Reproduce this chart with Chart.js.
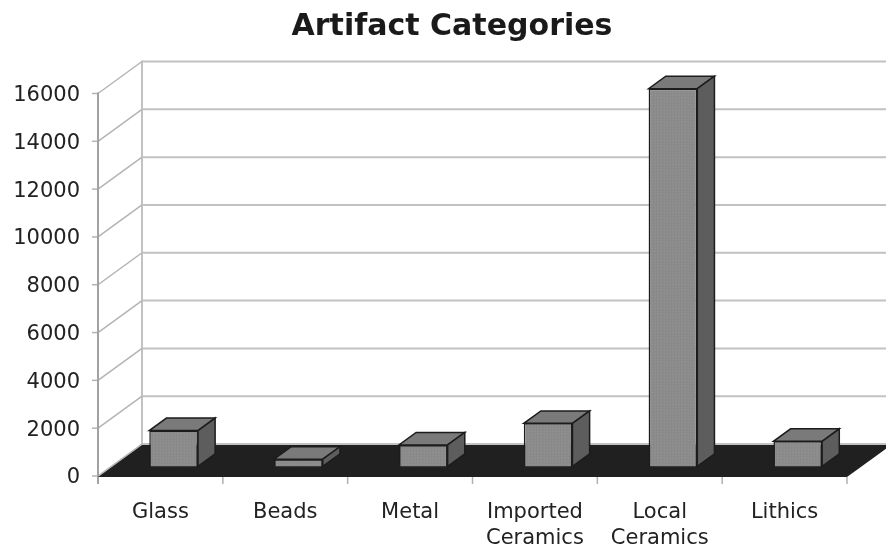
<!DOCTYPE html>
<html>
<head>
<meta charset="utf-8">
<title>Artifact Categories</title>
<script src="https://cdn.jsdelivr.net/npm/chart.js@4.4.1/dist/chart.umd.min.js"></script>
<style>
  html, body { margin: 0; padding: 0; background: #fff; }
</style>
</head>
<body>
<canvas id="artifactChart" width="886" height="549"></canvas>
<script>
const categories = ["Glass", "Beads", "Metal", ["Imported", "Ceramics"], ["Local", "Ceramics"], "Lithics"];
const counts = [1500, 300, 900, 1800, 15800, 1050];
const yTicks = [0, 2000, 4000, 6000, 8000, 10000, 12000, 14000, 16000];

// fake depth of the plot box: how far the back wall sits from the front axes
const depthX = 44;
const depthY = 32;
const barFront = 0.3; // bars start 30% into the floor
const barDepth = 0.39;
const titleCenter = 452;

const font = "'DejaVu Sans', Verdana, sans-serif";

// soft dotted fill for the bar fronts
function dotPattern(base, dot) {
  const c = document.createElement("canvas");
  c.width = 3;
  c.height = 3;
  const g = c.getContext("2d");
  g.fillStyle = base;
  g.fillRect(0, 0, 3, 3);
  g.fillStyle = dot;
  g.fillRect(0, 0, 1, 1);
  g.fillRect(2, 2, 1, 1);
  return g.createPattern(c, "repeat");
}

const line = (ctx, x1, y1, x2, y2) => {
  ctx.beginPath();
  ctx.moveTo(x1, y1);
  ctx.lineTo(x2, y2);
  ctx.stroke();
};

const poly = (ctx, pts, fill, stroke) => {
  ctx.beginPath();
  pts.forEach(([px, py], i) => (i ? ctx.lineTo(px, py) : ctx.moveTo(px, py)));
  ctx.closePath();
  ctx.fillStyle = fill;
  ctx.fill();
  ctx.strokeStyle = stroke;
  ctx.lineWidth = 1.5;
  ctx.stroke();
};

const box3d = {
  id: "box3d",
  afterLayout(chart) {
    // the title sits a little right of the canvas middle
    const t = chart.titleBlock;
    if (!t) return;
    const shift = titleCenter - (t.left + t.right) / 2;
    t.left += shift;
    t.right += shift;
  },
  beforeDatasetsDraw(chart) {
    const { ctx, chartArea: a, scales } = chart;
    const y = scales.y;
    ctx.save();

    // back wall gridlines
    ctx.strokeStyle = "#c2c2c2";
    ctx.lineWidth = 2;
    yTicks.forEach((v) => {
      const py = y.getPixelForValue(v) - depthY;
      line(ctx, a.left + depthX, py, chart.width + 20, py);
    });
    line(ctx, a.left + depthX, y.getPixelForValue(yTicks[yTicks.length - 1]) - depthY - 1,
      a.left + depthX, a.bottom - depthY);

    // left wall diagonals
    ctx.strokeStyle = "#b4b4b4";
    ctx.lineWidth = 1.5;
    yTicks.forEach((v) => {
      const py = y.getPixelForValue(v);
      line(ctx, a.left, py, a.left + depthX, py - depthY);
      line(ctx, a.left - 6, py, a.left, py);
    });

    // front value axis
    ctx.strokeStyle = "#a2a2a2";
    ctx.lineWidth = 2;
    line(ctx, a.left, a.top - 1, a.left, a.bottom + 8);

    // floor
    ctx.beginPath();
    ctx.moveTo(a.left, a.bottom + 1);
    ctx.lineTo(a.right, a.bottom + 1);
    ctx.lineTo(a.right + depthX, a.bottom + 1 - depthY);
    ctx.lineTo(a.left + depthX, a.bottom + 1 - depthY);
    ctx.closePath();
    ctx.fillStyle = "#202020";
    ctx.fill();

    // category boundary ticks
    ctx.strokeStyle = "#b0b0b0";
    ctx.lineWidth = 1.5;
    const step = (a.right - a.left) / categories.length;
    for (let i = 1; i <= categories.length; i++) {
      const px = a.left + i * step;
      line(ctx, px, a.bottom + 1, px, a.bottom + 8);
    }
    ctx.restore();
  },
  beforeDatasetDraw(chart) {
    chart.ctx.save();
    chart.ctx.translate(depthX * barFront, -depthY * barFront);
  },
  afterDatasetDraw(chart, args) {
    const { ctx } = chart;
    const dx = depthX * barDepth;
    const dy = depthY * barDepth;
    chart.getDatasetMeta(args.index).data.forEach((bar) => {
      const { x, y, base, width } = bar.getProps(["x", "y", "base", "width"], true);
      const l = x - width / 2;
      const r = x + width / 2;
      poly(ctx, [[l, y], [r, y], [r + dx, y - dy], [l + dx, y - dy]], "#7a7a7a", "#1c1c1c");
      poly(ctx, [[r, y], [r + dx, y - dy], [r + dx, base - dy], [r, base]], "#5d5d5d", "#1c1c1c");
    });
    ctx.restore();
  },
};

new Chart(document.getElementById("artifactChart"), {
  type: "bar",
  data: {
    labels: categories,
    datasets: [
      {
        data: counts,
        backgroundColor: dotPattern("#888888", "#9a9a9a"),
        borderColor: "#1c1c1c",
        borderWidth: 1.5,
        categoryPercentage: 1,
        barPercentage: 0.39,
        clip: false,
      },
    ],
  },
  options: {
    responsive: false,
    animation: false,
    devicePixelRatio: 1,
    layout: { padding: { left: 0, right: 39, top: 0, bottom: 0 } },
    plugins: {
      legend: { display: false },
      tooltip: { enabled: false },
      title: {
        display: true,
        text: "Artifact Categories",
        color: "#1a1a1a",
        font: { family: font, size: 30, weight: "bold", lineHeight: 1.2 },
        padding: { top: 9, bottom: 48.5 },
      },
    },
    scales: {
      x: {
        grid: { display: false },
        border: { display: false },
        ticks: {
          color: "#222",
          font: { family: font, size: 21, lineHeight: 1.25 },
          padding: 15,
          maxRotation: 0,
          autoSkip: false,
        },
        afterFit: (scale) => {
          scale.height = 73;
        },
      },
      y: {
        min: 0,
        max: 16000,
        grid: { display: false },
        border: { display: false },
        ticks: {
          color: "#222",
          font: { family: font, size: 21 },
          padding: 10,
          labelOffset: 2,
          callback: (v) => String(v),
        },
        afterBuildTicks: (scale) => {
          scale.ticks = yTicks.map((v) => ({ value: v }));
        },
        afterFit: (scale) => {
          scale.width = 98;
        },
      },
    },
  },
  plugins: [box3d],
});
</script>
</body>
</html>
